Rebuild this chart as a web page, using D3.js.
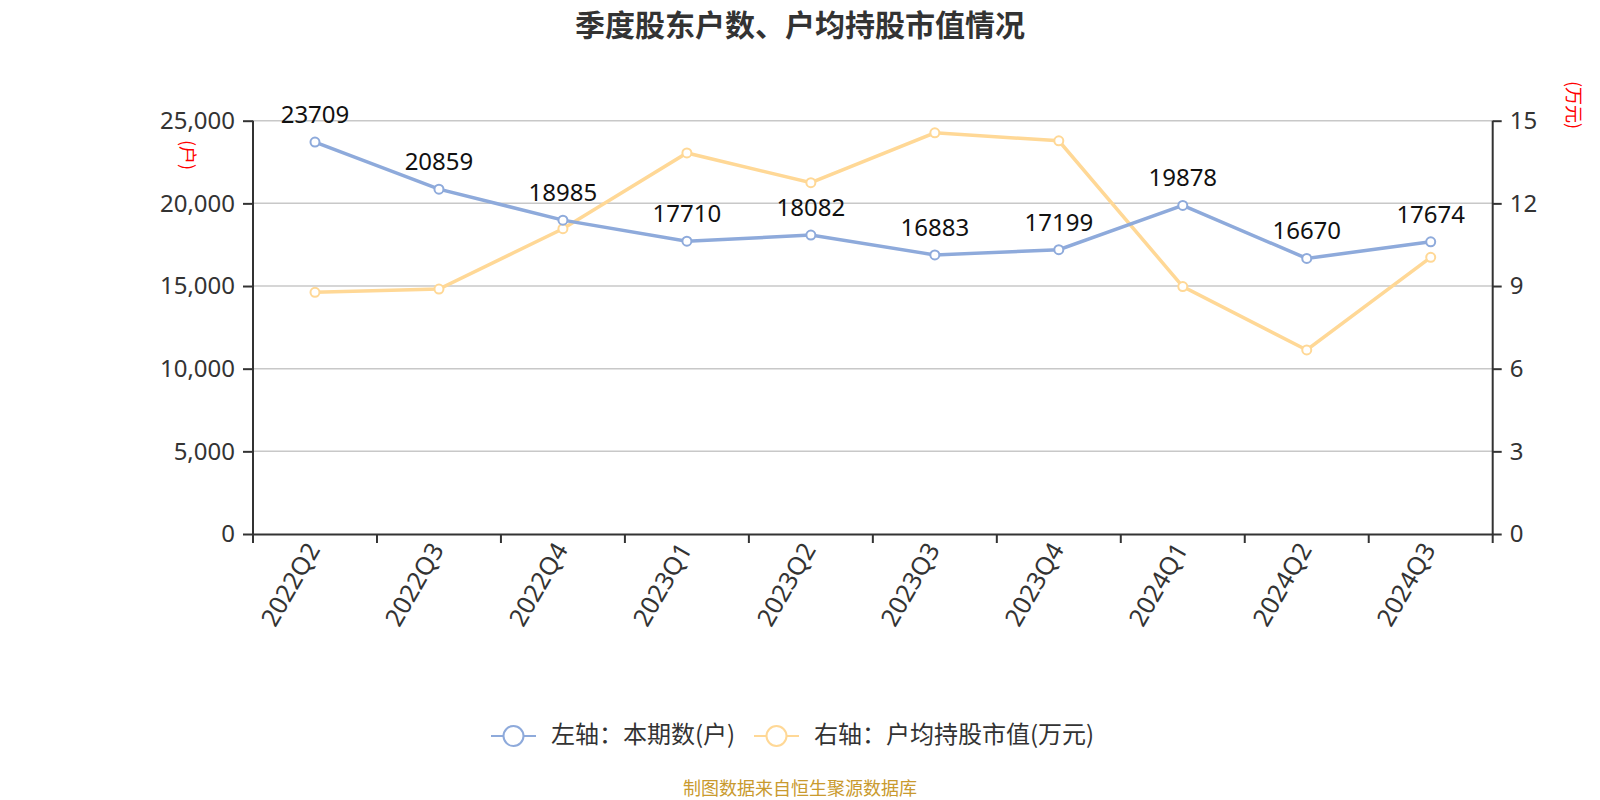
<!DOCTYPE html>
<html><head><meta charset="utf-8">
<script src="https://cdn.jsdelivr.net/npm/d3@7/dist/d3.min.js"></script>
<style>
html,body{margin:0;padding:0;background:#fff;}
svg text{font-family:"Noto Sans","Noto Sans CJK SC",sans-serif;}
</style></head>
<body>
<svg id="c" width="1600" height="800"></svg>
<script>
const categories = ["2022Q2","2022Q3","2022Q4","2023Q1","2023Q2","2023Q3","2023Q4","2024Q1","2024Q2","2024Q3"];
const holders = [23709,20859,18985,17710,18082,16883,17199,19878,16670,17674];
const avgValue = [8.77,8.89,11.08,13.83,12.75,14.56,14.27,8.98,6.68,10.04];
const leftTicks = [0,5000,10000,15000,20000,25000];
const rightTicks = [0,3,6,9,12,15];
const titleText = "季度股东户数、户均持股市值情况";
const legendNames = ["左轴：本期数(户)","右轴：户均持股市值(万元)"];
const leftUnit = "(户)", rightUnit = "(万元)";
const footerText = "制图数据来自恒生聚源数据库";
const colors = ["#8eaadb","#ffd896"];

const svg = d3.select("#c");
const L = 253, R = 1492.7, T = 120.7, B = 534;
const x = d3.scaleBand().domain(categories).range([L,R]);
const yL = d3.scaleLinear().domain([0,25000]).range([B,T]);
const yR = d3.scaleLinear().domain([0,15]).range([B,T]);

// title
svg.append("text").attr("x",800).attr("y",36).attr("text-anchor","middle")
  .attr("font-size",30).attr("font-weight","bold").attr("fill","#333")
  .style("font-family","'Noto Sans CJK SC',sans-serif").text(titleText);

// grid
svg.append("g").selectAll("line").data(leftTicks.slice(1)).join("line")
  .attr("x1",L).attr("x2",R).attr("y1",d=>yL(d)).attr("y2",d=>yL(d))
  .attr("stroke","#c8c8c8").attr("stroke-width",1.5);

// axes
const axL = svg.append("g").attr("transform",`translate(${L},0)`)
  .call(d3.axisLeft(yL).tickValues(leftTicks).tickFormat(d3.format(",")).tickSize(10).tickPadding(8));
const axR = svg.append("g").attr("transform",`translate(${R},0)`)
  .call(d3.axisRight(yR).tickValues(rightTicks).tickSize(9).tickPadding(8));
const axB = svg.append("g").attr("transform",`translate(0,${B})`)
  .call(d3.axisBottom(x).tickSize(0).tickFormat(""));
// boundary ticks for category axis
const bounds = categories.map(c=>x(c)).concat([R]);
axB.selectAll("line.bt").data(bounds).join("line").attr("class","bt")
  .attr("x1",d=>d).attr("x2",d=>d).attr("y1",0).attr("y2",9)
  .attr("stroke","#333").attr("stroke-width",2);
[axL,axR,axB].forEach(a=>{
  a.select(".domain").attr("stroke","#333").attr("stroke-width",2);
  a.selectAll(".tick line").attr("stroke","#333").attr("stroke-width",2);
  a.selectAll(".tick text").attr("font-size",24).attr("fill","#333")
   .style("font-family","'Noto Sans',sans-serif");
});
axL.select(".domain").attr("d",`M0,${B}V${T}`);
axR.select(".domain").attr("d",`M0,${B}V${T}`);

// x labels
svg.append("g").selectAll("text").data(categories).join("text")
  .attr("transform",d=>`translate(${x(d)+x.bandwidth()/2},${B+12}) rotate(-60)`)
  .attr("text-anchor","end").attr("dominant-baseline","middle")
  .attr("font-size",25).attr("fill","#333").text(d=>d);

// unit labels
svg.append("text").attr("transform",`translate(186,155) rotate(90)`)
  .attr("text-anchor","middle").attr("dominant-baseline","middle")
  .attr("font-size",18).attr("fill","#f00")
  .style("font-family","'Noto Sans CJK SC',sans-serif").text(leftUnit);
svg.append("text").attr("transform",`translate(1572,105) rotate(90)`)
  .attr("text-anchor","middle").attr("dominant-baseline","middle")
  .attr("font-size",18).attr("fill","#f00")
  .style("font-family","'Noto Sans CJK SC',sans-serif").text(rightUnit);

const cx = d=>x(d)+x.bandwidth()/2;
// yellow line
const lineR = d3.line().x((d,i)=>cx(categories[i])).y(d=>yR(d));
svg.append("path").datum(avgValue).attr("d",lineR).attr("fill","none")
  .attr("stroke",colors[1]).attr("stroke-width",3.5);
// blue line
const lineL = d3.line().x((d,i)=>cx(categories[i])).y(d=>yL(d));
svg.append("path").datum(holders).attr("d",lineL).attr("fill","none")
  .attr("stroke",colors[0]).attr("stroke-width",3.5);

svg.append("g").selectAll("circle").data(avgValue).join("circle")
  .attr("cx",(d,i)=>cx(categories[i])).attr("cy",d=>yR(d)).attr("r",4.5)
  .attr("fill","#fff").attr("stroke",colors[1]).attr("stroke-width",2);
svg.append("g").selectAll("circle").data(holders).join("circle")
  .attr("cx",(d,i)=>cx(categories[i])).attr("cy",d=>yL(d)).attr("r",4.5)
  .attr("fill","#fff").attr("stroke",colors[0]).attr("stroke-width",2);

// data labels
svg.append("g").selectAll("text").data(holders).join("text")
  .attr("x",(d,i)=>cx(categories[i])).attr("y",d=>yL(d)-19)
  .attr("text-anchor","middle").attr("font-size",24).attr("fill","#111").text(d=>d);

// legend
const leg = [{x0:491,tx:551},{x0:754,tx:814}];
leg.forEach((l,i)=>{
  const g = svg.append("g");
  g.append("line").attr("x1",l.x0).attr("x2",l.x0+45).attr("y1",736).attr("y2",736)
    .attr("stroke",colors[i]).attr("stroke-width",2);
  g.append("circle").attr("cx",l.x0+22.5).attr("cy",736).attr("r",10)
    .attr("fill","#fff").attr("stroke",colors[i]).attr("stroke-width",2);
  g.append("text").attr("x",l.tx).attr("y",736).attr("dominant-baseline","middle")
    .attr("font-size",24).attr("fill","#333")
    .style("font-family","'Noto Sans CJK SC',sans-serif").text(legendNames[i]);
});

// footer
svg.append("text").attr("x",800).attr("y",790).attr("text-anchor","middle")
  .attr("dominant-baseline","middle").attr("font-size",18).attr("fill","#c99a2e")
  .style("font-family","'Noto Sans CJK SC',sans-serif").text(footerText);
</script>
</body></html>
